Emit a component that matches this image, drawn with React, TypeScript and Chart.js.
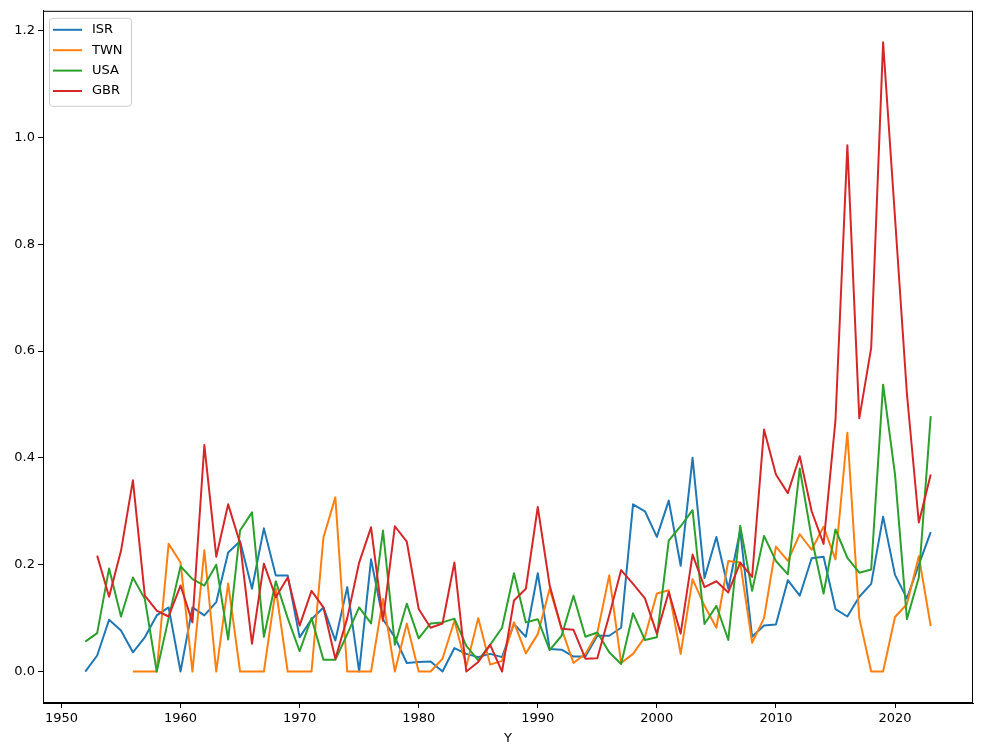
import React, { useEffect, useRef } from "react";
import { Chart, registerables } from "chart.js";

Chart.register(...registerables);

const years = [
  1952, 1953, 1954, 1955, 1956, 1957, 1958, 1959, 1960, 1961, 1962, 1963,
  1964, 1965, 1966, 1967, 1968, 1969, 1970, 1971, 1972, 1973, 1974, 1975,
  1976, 1977, 1978, 1979, 1980, 1981, 1982, 1983, 1984, 1985, 1986, 1987,
  1988, 1989, 1990, 1991, 1992, 1993, 1994, 1995, 1996, 1997, 1998, 1999,
  2000, 2001, 2002, 2003, 2004, 2005, 2006, 2007, 2008, 2009, 2010, 2011,
  2012, 2013, 2014, 2015, 2016, 2017, 2018, 2019, 2020, 2021, 2022, 2023,
];

const isr = [
  0.0, 0.03, 0.097, 0.077, 0.036, 0.064, 0.105, 0.12, 0.0, 0.12, 0.105, 0.13,
  0.223, 0.244, 0.155, 0.268, 0.18, 0.18, 0.064, 0.098, 0.12, 0.058, 0.158, 0.0,
  0.21, 0.098, 0.064, 0.016, 0.018, 0.019, 0.0, 0.044, 0.033, 0.027, 0.033, 0.027,
  0.089, 0.065, 0.184, 0.042, 0.041, 0.028, 0.028, 0.067, 0.067, 0.082, 0.313, 0.3,
  0.252, 0.32, 0.198, 0.4, 0.175, 0.252, 0.155, 0.264, 0.065, 0.086, 0.088, 0.171,
  0.142, 0.212, 0.215, 0.117, 0.103, 0.14, 0.164, 0.29, 0.181, 0.137, 0.2, 0.261,
];

const twn = [
  null, null, null, null, 0, 0, 0, 0.239, 0.204, 0, 0.227, 0,
  0.165, 0, 0, 0, 0.155, 0, 0, 0, 0.251, 0.326, 0, 0,
  0, 0.136, 0, 0.09, 0, 0, 0.024, 0.095, 0.01, 0.1, 0.013, 0.02,
  0.092, 0.034, 0.07, 0.155, 0.08, 0.016, 0.033, 0.072, 0.18, 0.016, 0.033, 0.065,
  0.146, 0.152, 0.033, 0.173, 0.123, 0.082, 0.207, 0.204, 0.054, 0.1, 0.234, 0.207,
  0.257, 0.228, 0.271, 0.21, 0.447, 0.1, 0, 0, 0.102, 0.126, 0.216, 0.085,
];

const usa = [
  0.056, 0.072, 0.193, 0.103, 0.176, 0.136, 0.0, 0.1, 0.197, 0.173, 0.161, 0.2,
  0.06, 0.264, 0.298, 0.065, 0.169, 0.1, 0.038, 0.1, 0.022, 0.022, 0.07, 0.12,
  0.09, 0.264, 0.05, 0.127, 0.062, 0.09, 0.092, 0.099, 0.048, 0.021, 0.05, 0.082,
  0.184, 0.092, 0.098, 0.04, 0.067, 0.142, 0.065, 0.073, 0.036, 0.014, 0.109, 0.059,
  0.064, 0.245, 0.272, 0.302, 0.089, 0.123, 0.059, 0.273, 0.151, 0.254, 0.207, 0.182,
  0.38, 0.25, 0.146, 0.266, 0.213, 0.185, 0.191, 0.537, 0.369, 0.098, 0.176, 0.478,
];

const gbr = [
  null, 0.217, 0.14, 0.226, 0.358, 0.142, 0.114, 0.103, 0.161, 0.092, 0.424, 0.215,
  0.313, 0.24, 0.052, 0.202, 0.139, 0.176, 0.086, 0.151, 0.12, 0.024, 0.1, 0.204,
  0.27, 0.095, 0.272, 0.243, 0.117, 0.082, 0.09, 0.204, 0, 0.018, 0.05, 0,
  0.133, 0.155, 0.308, 0.161, 0.08, 0.078, 0.024, 0.025, 0.105, 0.19, 0.164, 0.137,
  0.071, 0.149, 0.071, 0.219, 0.158, 0.169, 0.148, 0.204, 0.177, 0.453, 0.369, 0.334,
  0.403, 0.3, 0.239, 0.47, 0.985, 0.474, 0.606, 1.178, 0.85, 0.52, 0.279, 0.369,
];

const seriesNames = ["ISR", "TWN", "USA", "GBR"];
const seriesColors = ["#1f77b4", "#ff7f0e", "#2ca02c", "#d62728"];
const xTicks = [1950, 1960, 1970, 1980, 1990, 2000, 2010, 2020];
const yTicks = [0, 0.2, 0.4, 0.6, 0.8, 1.0, 1.2];

const FONT = "'DejaVu Sans', sans-serif";

const toPoints = (vals: (number | null)[]) =>
  years
    .map((yr, i) => ({ x: yr, y: vals[i] }))
    .filter((p) => p.y !== null);

// frame + matplotlib-ish legend box in the upper left
const frameAndLegend = {
  id: "frameAndLegend",
  afterDraw(chart: any) {
    const ctx = chart.ctx as CanvasRenderingContext2D;
    const { left, top, right, bottom } = chart.chartArea;
    ctx.save();
    ctx.strokeStyle = "#000";
    ctx.lineWidth = 1;
    ctx.strokeRect(left + 0.5, top + 0.5, right - left - 1, bottom - top - 1);

    const x0 = left + 6;
    const y0 = top + 7;
    ctx.fillStyle = "rgba(255,255,255,0.8)";
    ctx.strokeStyle = "#cccccc";
    ctx.beginPath();
    ctx.roundRect(x0 + 0.5, y0 + 0.5, 82, 88, 3);
    ctx.fill();
    ctx.stroke();

    chart.data.datasets.forEach((ds: any, i: number) => {
      const yy = y0 + 12 + i * 20.4;
      ctx.strokeStyle = ds.borderColor;
      ctx.lineWidth = 2;
      ctx.beginPath();
      ctx.moveTo(x0 + 4, yy);
      ctx.lineTo(x0 + 33, yy);
      ctx.stroke();
      ctx.fillStyle = "#000";
      ctx.font = `13px ${FONT}`;
      ctx.textBaseline = "middle";
      ctx.fillText(ds.label, x0 + 43, yy);
    });
    ctx.restore();
  },
};

const App = () => {
  const canvasRef = useRef<HTMLCanvasElement>(null);

  useEffect(() => {
    const canvas = canvasRef.current as HTMLCanvasElement;
    const series = [isr, twn, usa, gbr];

    const chart = new Chart(canvas, {
      type: "line",
      data: {
        datasets: series.map((vals, i) => ({
          label: seriesNames[i],
          data: toPoints(vals) as any,
          borderColor: seriesColors[i],
          backgroundColor: seriesColors[i],
          borderWidth: 2,
          borderJoinStyle: "round" as const,
          pointRadius: 0,
          tension: 0,
          fill: false,
          order: series.length - i,
        })),
      },
      options: {
        animation: false,
        responsive: true,
        maintainAspectRatio: false,
        layout: { padding: { left: 0, right: 8, top: 10, bottom: 0 } },
        plugins: {
          legend: { display: false },
          tooltip: { enabled: false },
        },
        scales: {
          x: {
            type: "linear",
            min: 1948.45,
            max: 2026.55,
            afterBuildTicks: (s: any) => {
              s.ticks = xTicks.map((v) => ({ value: v }));
            },
            afterFit: (s: any) => {
              s.height = 53;
            },
            ticks: {
              color: "#000",
              font: { family: FONT, size: 13 },
              padding: 3,
              maxRotation: 0,
              autoSkip: false,
              callback: (v: any) => String(v),
            },
            grid: { drawOnChartArea: false, color: "#000", tickLength: 5 },
            border: { color: "#000" },
            title: {
              display: true,
              text: "Y",
              color: "#000",
              font: { family: FONT, size: 13 },
              padding: { top: 4, bottom: 10 },
            },
          },
          y: {
            type: "linear",
            min: -0.0589,
            max: 1.2369,
            afterBuildTicks: (s: any) => {
              s.ticks = yTicks.map((v) => ({ value: v }));
            },
            afterFit: (s: any) => {
              s.width = 43;
            },
            ticks: {
              color: "#000",
              font: { family: FONT, size: 13 },
              padding: 3,
              autoSkip: false,
              callback: (v: any) => Number(v).toFixed(1),
            },
            grid: { drawOnChartArea: false, color: "#000", tickLength: 5 },
            border: { color: "#000" },
          },
        },
      },
      plugins: [frameAndLegend],
    });

    return () => {
      chart.destroy();
    };
  }, []);

  return (
    <div style={{ position: "absolute", left: 0, top: 0, width: 981, height: 756, background: "#fff" }}>
      <canvas ref={canvasRef}></canvas>
    </div>
  );
};

export default App;
